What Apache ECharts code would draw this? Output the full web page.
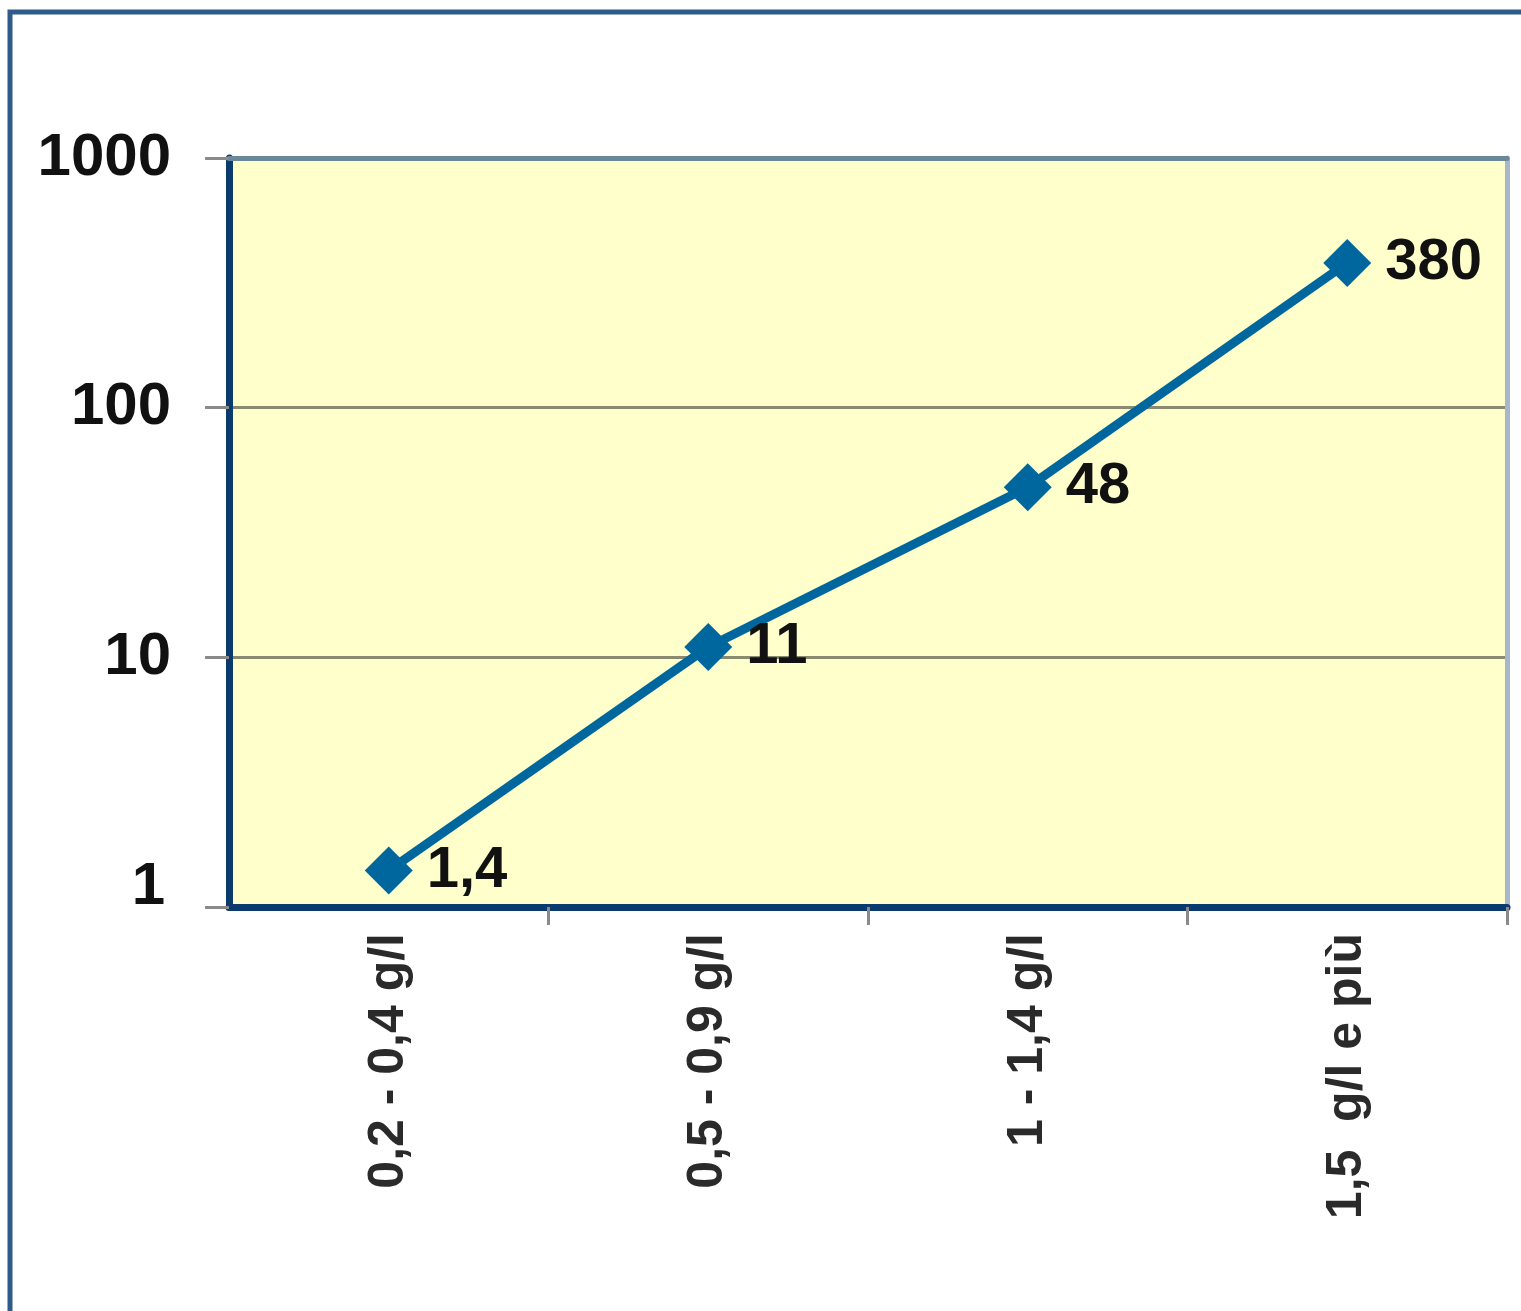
<!DOCTYPE html>
<html>
<head>
<meta charset="utf-8">
<script src="https://cdn.jsdelivr.net/npm/echarts@6/dist/echarts.min.js"></script>
<style>
html,body{margin:0;padding:0;background:#fff;}
#chart{width:1521px;height:1311px;}
</style>
</head>
<body>
<div id="chart"></div>
<script>
const categories = ['0,2 - 0,4 g/l', '0,5 - 0,9 g/l', '1 - 1,4 g/l', '1,5  g/l e più'];
const values = [1.4, 11, 48, 380];
const valueLabels = ['1,4', '11', '48', '380'];
const yTicks = [1, 10, 100, 1000];

const FONT = 'Liberation Sans, Arial, sans-serif';
const chart = echarts.init(document.getElementById('chart'));
chart.setOption({
  animation: false,
  backgroundColor: '#ffffff',
  graphic: [{
    type: 'rect',
    shape: {x: 10, y: 12, width: 1600, height: 1400},
    style: {fill: 'none', stroke: '#2e5b8a', lineWidth: 5},
    silent: true
  }],
  grid: {
    left: 229, top: 158, right: 14, bottom: 404,
    show: true, backgroundColor: '#ffffcc', borderWidth: 0
  },
  xAxis: [{
    type: 'category',
    data: categories,
    boundaryGap: true,
    axisLine: {show: true, lineStyle: {color: '#0b3a6e', width: 7}},
    axisTick: {show: true, length: 18, lineStyle: {color: '#8a8a8a', width: 3},
      interval: function (i) { return i > 0 && i < categories.length; }},
    axisLabel: {rotate: 90, margin: 26, fontSize: 50, fontWeight: 'bold', color: '#2a2a2a', fontFamily: FONT},
    splitLine: {show: false}
  }, {
    type: 'category',
    position: 'top',
    data: categories,
    axisLine: {show: true, lineStyle: {color: '#6a8898', width: 5}},
    axisTick: {show: false},
    axisLabel: {show: false}
  }],
  yAxis: [{
    type: 'log',
    logBase: 10,
    min: 1,
    max: 1000,
    axisLine: {show: true, lineStyle: {color: '#0b3a6e', width: 7}},
    axisTick: {show: true, length: 24, lineStyle: {color: '#8a8a8a', width: 3}},
    axisLabel: {
      margin: 58, fontSize: 60, fontWeight: 'bold', color: '#111', fontFamily: FONT,
      formatter: function (v) { return v === 1 ? '{b|1}' : String(v); },
      rich: {b: {fontSize: 60, fontWeight: 'bold', color: '#111', fontFamily: FONT, padding: [0, 6, 40, 0]}}
    },
    splitLine: {show: true, lineStyle: {color: ['#8a8a70', '#8a8a70', '#8a8a70', 'transparent'], width: 3}}
  }, {
    type: 'value',
    position: 'right',
    min: 0, max: 1,
    axisLine: {show: true, lineStyle: {color: '#a8b8cc', width: 5}},
    axisTick: {show: false},
    axisLabel: {show: false},
    splitLine: {show: false}
  }],
  series: [{
    type: 'line',
    data: values,
    xAxisIndex: 0,
    yAxisIndex: 0,
    symbol: 'diamond',
    symbolSize: 48,
    lineStyle: {color: '#00679e', width: 9},
    itemStyle: {color: '#00679e'},
    label: {
      show: true, position: 'right', distance: 14,
      fontSize: 58, fontWeight: 'bold', color: '#111', fontFamily: FONT,
      formatter: function (p) { return valueLabels[p.dataIndex]; }
    },
    z: 5
  }]
});
</script>
</body>
</html>
